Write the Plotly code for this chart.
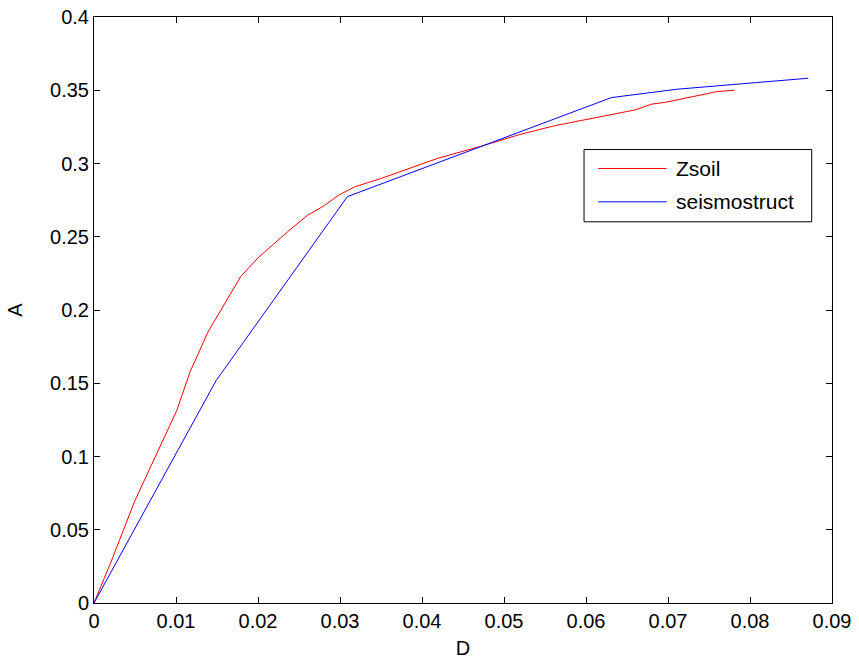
import plotly.graph_objects as go

zsoil_d = [0, 0.002, 0.005, 0.0101, 0.0117, 0.0139, 0.0179, 0.0200, 0.0238, 0.0260,
           0.0281, 0.0299, 0.0319, 0.0349, 0.0420, 0.0471, 0.0518, 0.0540, 0.0561,
           0.0660, 0.0680, 0.0698, 0.0760, 0.0781]
zsoil_a = [0, 0.027, 0.070, 0.1315, 0.1576, 0.185, 0.2229, 0.2356, 0.2543, 0.2645,
           0.2713, 0.2786, 0.2843, 0.2896, 0.3037, 0.3116, 0.3196, 0.3225, 0.3257,
           0.3366, 0.3405, 0.3419, 0.3491, 0.3500]

seis_d = [0, 0.0149, 0.0309, 0.0631, 0.0711, 0.0871]
seis_a = [0, 0.1519, 0.2774, 0.3450, 0.3507, 0.3582]

series_names = ["Zsoil", "seismostruct"]
series_colors = ["#ff0000", "#0000ff"]

x_ticks = [0, 0.01, 0.02, 0.03, 0.04, 0.05, 0.06, 0.07, 0.08, 0.09]
x_labels = ["0", "0.01", "0.02", "0.03", "0.04", "0.05", "0.06", "0.07", "0.08", "0.09"]
y_ticks = [0, 0.05, 0.1, 0.15, 0.2, 0.25, 0.3, 0.35, 0.4]
y_labels = ["0", "0.05", "0.1", "0.15", "0.2", "0.25", "0.3", "0.35", "0.4"]

fig = go.Figure()
fig.add_trace(go.Scatter(x=zsoil_d, y=zsoil_a, mode="lines", name=series_names[0],
                         line=dict(color=series_colors[0], width=1), showlegend=False))
fig.add_trace(go.Scatter(x=seis_d, y=seis_a, mode="lines", name=series_names[1],
                         line=dict(color=series_colors[1], width=1), showlegend=False))

family = "Liberation Sans, Arial, sans-serif"
font = dict(family=family, size=20, color="black")
axis_common = dict(showline=True, linecolor="black", linewidth=1, mirror="allticks",
                   ticks="inside", ticklen=6, tickcolor="black", tickwidth=1,
                   showgrid=False, zeroline=False, tickfont=font, automargin=False,
                   ticklabeloverflow="allow")

# custom legend box (paper coordinates)
leg_x0, leg_x1, leg_y0, leg_y1 = 0.664, 0.9725, 0.6505, 0.7739
line_x0, line_x1, text_x = 0.6833, 0.776, 0.7863
row_y = [0.7415, 0.6846]

shapes = [dict(type="rect", xref="paper", yref="paper", x0=leg_x0, x1=leg_x1,
               y0=leg_y0, y1=leg_y1, line=dict(color="black", width=1),
               fillcolor="white", layer="above")]
annotations = []
for name, color, yy in zip(series_names, series_colors, row_y):
    shapes.append(dict(type="line", xref="paper", yref="paper", x0=line_x0, x1=line_x1,
                       y0=yy, y1=yy, line=dict(color=color, width=1), layer="above"))
    annotations.append(dict(xref="paper", yref="paper", x=text_x, y=yy, text=name,
                            showarrow=False, xanchor="left", yanchor="middle",
                            font=dict(family=family, size=21, color="black")))

fig.update_layout(
    width=859, height=659,
    paper_bgcolor="white", plot_bgcolor="white",
    margin=dict(l=94, r=27, t=17, b=56),
    font=font,
    xaxis=dict(range=[0, 0.09], tickvals=x_ticks, ticktext=x_labels,
               title=dict(text="D", font=font, standoff=11), **axis_common),
    yaxis=dict(range=[0, 0.4], tickvals=y_ticks, ticktext=y_labels,
               title=dict(text="A", font=font, standoff=22), **axis_common),
    shapes=shapes,
    annotations=annotations,
    showlegend=False,
)

fig.write_html("out.html", config={"displayModeBar": False},
               post_script="document.body.style.margin='0px';")
